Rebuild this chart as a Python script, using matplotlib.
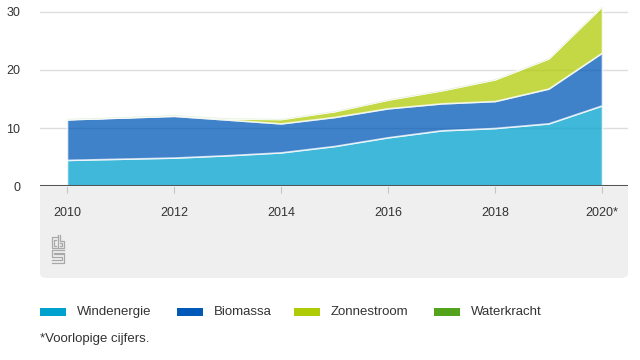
import matplotlib.pyplot as plt
from matplotlib.patches import FancyBboxPatch, Rectangle
from matplotlib.lines import Line2D

plt.rcParams["font.family"] = ["Liberation Sans", "DejaVu Sans"]

# Data
years = [2010, 2011, 2012, 2013, 2014, 2015, 2016, 2017, 2018, 2019, 2020]
windenergie = [4.5, 4.7, 4.9, 5.3, 5.8, 6.9, 8.4, 9.6, 10.0, 10.8, 13.9]
biomassa = [7.0, 7.1, 7.2, 6.15, 5.0, 5.0, 5.0, 4.65, 4.65, 6.0, 9.1]
zonnestroom = [0.05, 0.05, 0.1, 0.2, 0.75, 1.0, 1.5, 2.25, 3.75, 5.2, 8.0]
waterkracht = [0.1, 0.1, 0.1, 0.1, 0.1, 0.1, 0.1, 0.1, 0.1, 0.1, 0.1]

series = ["Windenergie", "Biomassa", "Zonnestroom", "Waterkracht"]
colors = ["#00a1cd", "#0058b8", "#afcb05", "#53a31d"]
xticks = [2010, 2012, 2014, 2016, 2018, 2020]
xlabels = ["2010", "2012", "2014", "2016", "2018", "2020*"]

W, H = 640, 360
fig = plt.figure(figsize=(6.4, 3.6), dpi=100)


def fx(x):
    return x / W


def fy(y):
    return 1 - y / H


# grey panel under the axis
fig.patches.append(FancyBboxPatch((fx(40), fy(278)), fx(628) - fx(40), fy(186) - fy(278),
                                  boxstyle="round,pad=0,rounding_size=0.012",
                                  transform=fig.transFigure, fc="#efefef", ec="none", zorder=-2))
fig.patches.append(Rectangle((fx(40), fy(200)), fx(628) - fx(40), fy(186) - fy(200),
                             transform=fig.transFigure, fc="#efefef", ec="none", zorder=-2))

ax = fig.add_axes([fx(40), fy(186), fx(628) - fx(40), fy(3.3) - fy(186)])
ax.patch.set_alpha(0)

ax.stackplot(years, windenergie, biomassa, zonnestroom, waterkracht,
             colors=colors, alpha=0.75, edgecolor="white", linewidth=1.2, zorder=2)

ax.set_xlim(2010 - 27 / 53.5, 2020 + 26 / 53.5)
ax.set_ylim(0, 31.5)
ax.set_yticks([0, 10, 20, 30])
ax.set_xticks(xticks)
ax.set_xticklabels(xlabels)
for s in ax.spines.values():
    s.set_visible(False)
ax.grid(axis="y", color="#dddddd", linewidth=1, zorder=1)
ax.axhline(0, color="#555555", linewidth=2.2, zorder=4)
ax.tick_params(axis="y", length=0, pad=14, labelsize=9, labelcolor="#333333")
ax.tick_params(axis="x", length=5, width=0.8, color="#c4c4c4", pad=10,
               labelsize=9, labelcolor="#333333", direction="out")

# cbs logo (rough)
lc = "#a8a8a8"
logo = [
    [(57, 237), (52, 237), (52, 248), (57, 248)],
    [(56, 239.5), (54, 239.5), (54, 245.5), (56, 245.5)],
    [(58, 235), (58, 248), (64, 248), (64, 241), (60, 241), (60, 235)],
    [(60, 243), (62, 243), (62, 246), (60, 246)],
    [(64, 250), (52, 250), (52, 256.5), (62, 256.5), (62, 260), (52, 260)],
    [(64, 252.5), (54, 252.5), (54, 254), (64, 254), (64, 262.5), (52, 262.5)],
]
for pts in logo:
    fig.lines.append(Line2D([fx(p[0]) for p in pts], [fy(p[1]) for p in pts],
                            transform=fig.transFigure, color=lc, linewidth=0.9))

# legend
patch_x = [40, 177, 294, 434]
for name, c, x in zip(series, colors, patch_x):
    fig.patches.append(Rectangle((fx(x), fy(316)), fx(26), fy(308) - fy(316),
                                 transform=fig.transFigure, fc=c, ec="none"))
    fig.text(fx(x + 37), fy(312), name, fontsize=9.5, color="#333333", va="center")

fig.text(fx(40), fy(339), "*Voorlopige cijfers.", fontsize=9.5, color="#333333", va="center")

fig.savefig("out.png", dpi=100)
